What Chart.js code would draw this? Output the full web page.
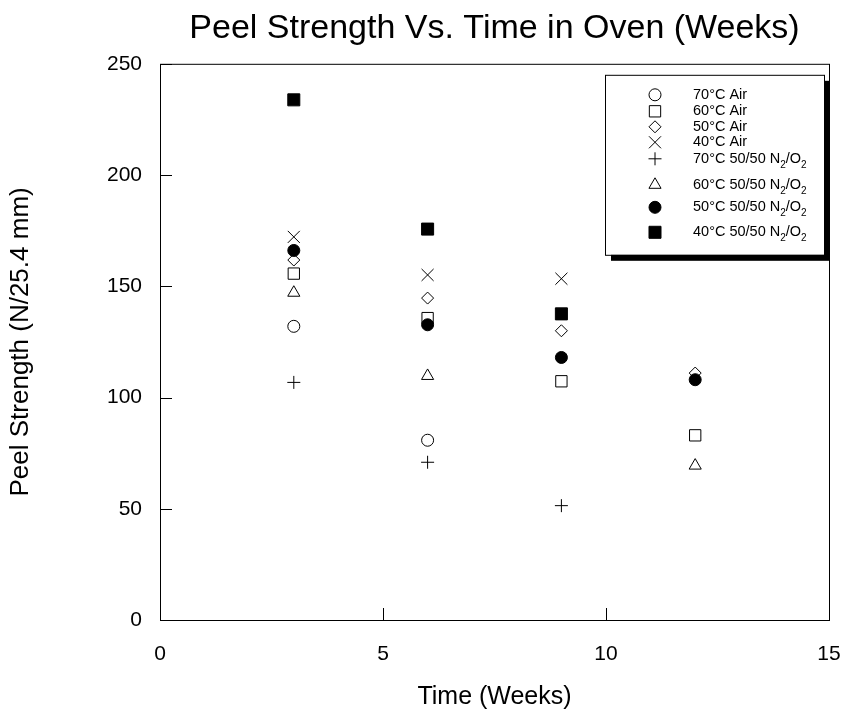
<!DOCTYPE html>
<html lang="en">
<head>
    <meta charset="UTF-8">
    <title>Peel Strength Vs. Time in Oven (Weeks)</title>
    <script src="https://cdn.jsdelivr.net/npm/chart.js"></script>
    <style>
        html, body {
            margin: 0;
            padding: 0;
            background: #fff;
        }
    </style>
</head>
<body>
    <canvas id="peelChart" width="843" height="714"></canvas>

    <script>
        const weeks = [3, 6, 9, 12];
        const air70 = [132, 80.8, null, null];
        const air60 = [155.7, 135.7, 107.3, 83];
        const air50 = [161.8, 144.7, 130, 111];
        const air40 = [172.2, 155.1, 153.4, null];
        const mix70 = [106.8, 70.9, 51.4, null];
        const mix60 = [147.1, 109.7, null, 69.4];
        const mix50 = [166.1, 132.7, 118, 108];
        const mix40 = [233.8, 175.7, 137.6, null];

        const seriesLabels = [
            '70°C Air', '60°C Air', '50°C Air', '40°C Air',
            '70°C 50/50 N2/O2', '60°C 50/50 N2/O2', '50°C 50/50 N2/O2', '40°C 50/50 N2/O2'
        ];
        const seriesValues = [air70, air60, air50, air40, mix70, mix60, mix50, mix40];

        const xTicks = { min: 0, max: 15, step: 5 };
        const yTicks = { min: 0, max: 250, step: 50 };

        // marker look per series
        const markers = [
            { style: 'circle',   r: 6,   fill: '#fff' },
            { style: 'rect',     r: 8,   fill: '#fff' },
            { style: 'rectRot',  r: 6,   fill: '#fff' },
            { style: 'crossRot', r: 8.5, fill: '#fff' },
            { style: 'cross',    r: 6.5, fill: '#fff' },
            { style: 'triangle', r: 7,   fill: '#fff' },
            { style: 'circle',   r: 6,   fill: '#000' },
            { style: 'rect',     r: 8.5, fill: '#000' }
        ];

        const FONT = '"Liberation Sans", Arial, sans-serif';
        Chart.defaults.font.family = FONT;
        Chart.defaults.color = '#000';

        const datasets = seriesValues.map((vals, i) => ({
            label: seriesLabels[i],
            data: weeks.map((w, j) => ({ x: w, y: vals[j] })).filter(p => p.y !== null),
            pointStyle: markers[i].style,
            pointRadius: markers[i].r,
            pointHoverRadius: markers[i].r,
            pointBackgroundColor: markers[i].fill,
            pointBorderColor: '#000',
            pointBorderWidth: 1,
            showLine: false,
            order: seriesValues.length - i // later series drawn on top
        }));

        // writes "N2/O2" with the 2s as subscripts
        function drawLabel(ctx, text, x, y) {
            let cx = x;
            for (let i = 0; i < text.length; i++) {
                const ch = text[i];
                const sub = ch === '2' && (text[i - 1] === 'N' || text[i - 1] === 'O');
                ctx.font = (sub ? '10px ' : '14.5px ') + FONT;
                ctx.fillText(ch, cx, sub ? y + 6 : y);
                cx += ctx.measureText(ch).width;
            }
        }

        const framePlugin = {
            id: 'frame',
            afterDraw(chart) {
                const { ctx, chartArea: a, scales } = chart;
                ctx.save();
                ctx.strokeStyle = '#000';
                ctx.lineWidth = 1;

                // box around the plot and inward tick marks
                ctx.strokeRect(a.left + 0.5, a.top + 0.5, a.right - a.left, a.bottom - a.top);
                ctx.beginPath();
                scales.x.ticks.forEach(t => {
                    const px = Math.round(scales.x.getPixelForValue(t.value)) + 0.5;
                    ctx.moveTo(px, a.bottom);
                    ctx.lineTo(px, a.bottom - 12);
                });
                scales.y.ticks.forEach(t => {
                    const py = Math.round(scales.y.getPixelForValue(t.value)) + 0.5;
                    ctx.moveTo(a.left, py);
                    ctx.lineTo(a.left + 12, py);
                });
                ctx.stroke();

                // legend with drop shadow
                const bx = a.right - 224, by = a.top + 11, bw = 219, bh = 180;
                ctx.fillStyle = '#000';
                ctx.fillRect(bx + 6, by + 6, bw, bh);
                ctx.fillStyle = '#fff';
                ctx.fillRect(bx, by, bw, bh);
                ctx.strokeRect(bx + 0.5, by + 0.5, bw, bh);

                const rows = [20, 36.5, 52, 67.5, 84, 110, 132.5, 157.5];
                chart.data.datasets.forEach((ds, i) => {
                    const y = by + rows[i];
                    ctx.fillStyle = markers[i].fill;
                    ctx.strokeStyle = '#000';
                    ctx.lineWidth = 1;
                    Chart.helpers.drawPoint(ctx, {
                        pointStyle: markers[i].style,
                        radius: markers[i].r,
                        rotation: 0,
                        borderWidth: 1
                    }, bx + 50, y);
                    ctx.fillStyle = '#000';
                    ctx.textBaseline = 'middle';
                    ctx.textAlign = 'left';
                    drawLabel(ctx, ds.label, bx + 88, y);
                });
                ctx.restore();
            }
        };

        new Chart(document.getElementById('peelChart'), {
            type: 'scatter',
            data: { datasets: datasets },
            plugins: [framePlugin],
            options: {
                responsive: false,
                animation: false,
                layout: { padding: { right: 14 } },
                plugins: {
                    legend: { display: false },
                    tooltip: { enabled: false },
                    title: {
                        display: true,
                        text: 'Peel Strength Vs. Time in Oven (Weeks)',
                        fullSize: false,
                        color: '#000',
                        font: { size: 34, weight: 'normal' },
                        padding: { top: 8, bottom: 15 }
                    }
                },
                scales: {
                    x: {
                        type: 'linear',
                        min: xTicks.min,
                        max: xTicks.max,
                        grid: { display: false, drawTicks: false },
                        border: { display: false },
                        ticks: { stepSize: xTicks.step, padding: 22, font: { size: 21 }, color: '#000' },
                        title: {
                            display: true,
                            text: 'Time (Weeks)',
                            font: { size: 25 },
                            color: '#000',
                            padding: { top: 0, bottom: 2 }
                        },
                        afterFit: s => {
                            s.height = 94;
                            s.paddingLeft = 0;
                            s.paddingRight = 0;
                        }
                    },
                    y: {
                        min: yTicks.min,
                        max: yTicks.max,
                        grid: { display: false, drawTicks: false },
                        border: { display: false },
                        ticks: { stepSize: yTicks.step, padding: 18, font: { size: 21 }, color: '#000' },
                        title: {
                            display: true,
                            text: 'Peel Strength (N/25.4 mm)',
                            font: { size: 26 },
                            color: '#000',
                            padding: { top: 5, bottom: 0 }
                        },
                        afterFit: s => {
                            s.width = 160;
                            s.paddingTop = 0;
                            s.paddingBottom = 0;
                        }
                    }
                }
            }
        });
    </script>
</body>
</html>
